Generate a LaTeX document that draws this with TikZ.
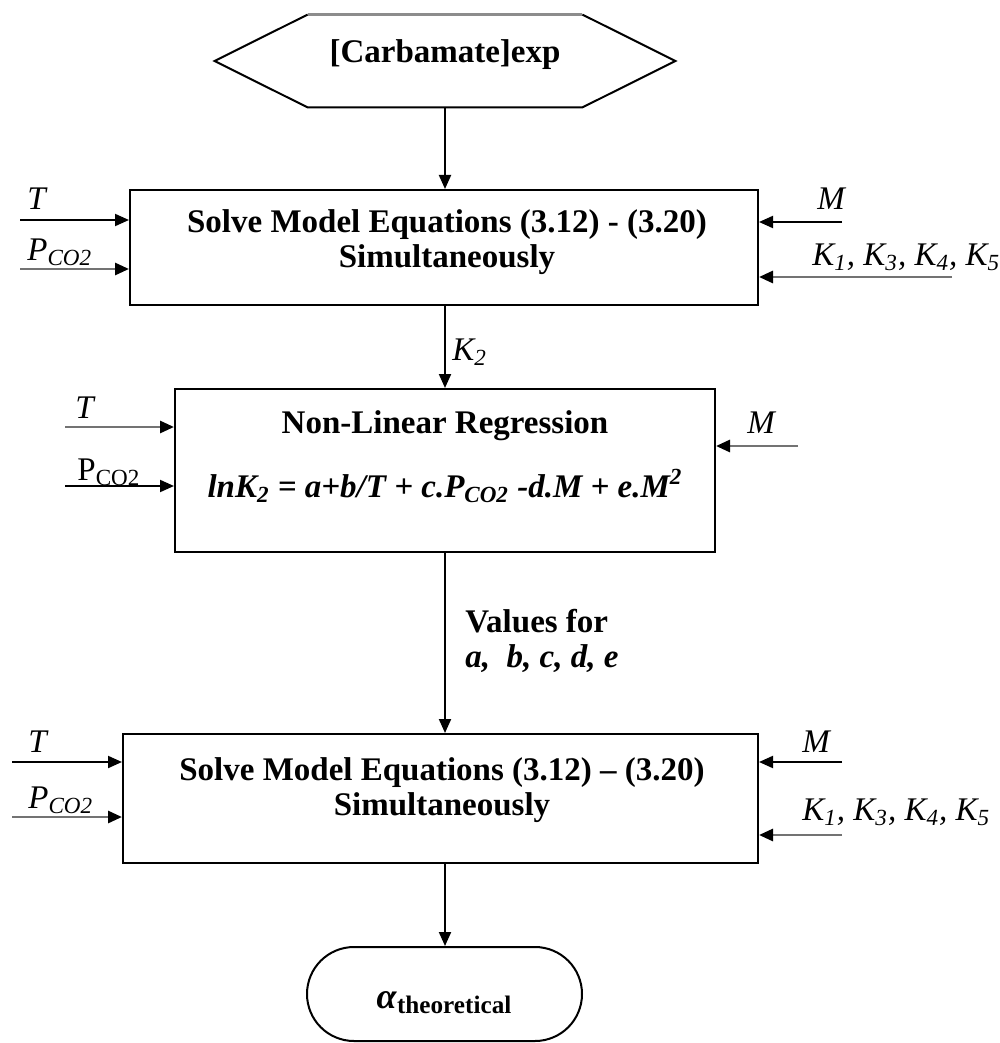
\documentclass[tikz,border=0pt]{standalone}
\usepackage{fontspec}
\setmainfont{Liberation Serif}
\usetikzlibrary{arrows.meta,calc}
\begin{document}
\begin{tikzpicture}[x=0.5pt,y=-0.5pt,
  font=\fontsize{16.5}{16.5}\selectfont,
  box/.style={draw=black,line width=1pt,inner sep=0pt},
  txt/.style={inner sep=0pt,anchor=base},
  lab/.style={inner sep=0pt,anchor=base west,font=\fontsize{16.5}{16.5}\selectfont\itshape},
  arr/.style={draw=black,line width=1pt,-{Triangle[length=7pt,width=6pt,color=black]}},
  garr/.style={arr,draw=black!55,line width=1.4pt},
]
\useasboundingbox (0,0) rectangle (1000,1043);
% hexagon
\node[inner sep=0pt,minimum width=230pt,minimum height=46pt] (hex) at (445,61) {};
\draw[line width=1pt] ($(hex.north west)+(93,0)$) -- (hex.west) -- ($(hex.south west)+(93,0)$) -- ($(hex.south east)+(-93,0)$) -- (hex.east) -- ($(hex.north east)+(-93,0)$);
\draw[line width=1.4pt,draw=black!45] ($(hex.north west)+(93,0)$) -- ($(hex.north east)+(-93,0)$);
\node[txt,font=\fontsize{16.5}{16.5}\selectfont\bfseries] (hext) at (445,63) {[Carbamate]exp};
% boxes
\node[box,minimum width=314pt,minimum height=57.5pt] (b1) at (444,247.5) {};
\node[box,minimum width=270pt,minimum height=81.5pt] (b2) at (445,470.5) {};
\node[box,minimum width=317.5pt,minimum height=64.5pt] (b3) at (440.5,798.5) {};
\node[box,rounded corners=23.5pt,minimum width=137.5pt,minimum height=47pt] (term) at (444.5,994) {};
% box texts
\node[txt,font=\fontsize{16.5}{16.5}\selectfont\bfseries] (b1a) at (447,233) {Solve Model Equations (3.12) - (3.20)};
\node[txt,font=\fontsize{16.5}{16.5}\selectfont\bfseries] (b1b) at (447,267) {Simultaneously};
\node[txt,font=\fontsize{16.5}{16.5}\selectfont\bfseries] (b2a) at (445,433) {Non-Linear Regression};
\node[txt,font=\fontsize{16.5}{16.5}\selectfont\bfseries\itshape] (b2b) at (445,497) {lnK\textsubscript{2} = a+b/T + c.P\textsubscript{CO2} -d.M + e.M\textsuperscript{2}};
\node[txt,font=\fontsize{16.5}{16.5}\selectfont\bfseries] (b3a) at (442,780) {Solve Model Equations (3.12) – (3.20)};
\node[txt,font=\fontsize{16.5}{16.5}\selectfont\bfseries] (b3b) at (442,815) {Simultaneously};
\node[txt,font=\fontsize{18}{18}\selectfont\bfseries] (termt) at (444.5,1008) {\textit{α}\textsubscript{theoretical}};
% vertical flow
\draw[arr] (hex.south) -- (hex.south |- b1.north);
\draw[arr] (hex.south |- b1.south) -- (hex.south |- b2.north);
\draw[arr] (hex.south |- b2.south) -- (hex.south |- b3.north);
\draw[arr] (hex.south |- b3.south) -- (hex.south |- term.north);
\node[lab] (k2) at (452,360) {K\textsubscript{2}};
\node[txt,anchor=base west,font=\fontsize{16.5}{16.5}\selectfont\bfseries] (vf) at (465,632) {Values for};
\node[txt,anchor=base west,font=\fontsize{16.5}{16.5}\selectfont\bfseries\itshape] (vl) at (465,667) {a,\ \ b, c, d, e};
% box1 inputs
\coordinate (i1t) at (20,220);
\coordinate (i1p) at (20,269);
\coordinate (i1m) at (842,222);
\coordinate (i1k) at (952,277);
\draw[arr] (i1t) -- (i1t -| b1.west);
\draw[garr] (i1p) -- (i1p -| b1.west);
\draw[arr] (i1m) -- (i1m -| b1.east);
\draw[garr] (i1k) -- (i1k -| b1.east);
\node[lab] (l1t) at (27,210) {T};
\node[lab] (l1p) at (27,260) {P\textsubscript{CO2}};
\node[lab] (l1m) at (817,210) {M};
\node[lab] (l1k) at (812,265) {K\textsubscript{1}, K\textsubscript{3}, K\textsubscript{4}, K\textsubscript{5}};
% box2 inputs
\coordinate (i2t) at (65,427);
\coordinate (i2p) at (65,486);
\coordinate (i2m) at (798,446);
\draw[garr] (i2t) -- (i2t -| b2.west);
\draw[arr] (i2p) -- (i2p -| b2.west);
\draw[garr] (i2m) -- (i2m -| b2.east);
\node[lab] (l2t) at (75,418) {T};
\node[lab,font=\fontsize{16.5}{16.5}\selectfont] (l2p) at (77,480) {P\textsubscript{CO2}};
\node[lab] (l2m) at (747,433) {M};
% box3 inputs
\coordinate (i3t) at (12,762);
\coordinate (i3p) at (12,817);
\coordinate (i3m) at (842,762);
\coordinate (i3k) at (842,835);
\draw[arr] (i3t) -- (i3t -| b3.west);
\draw[garr] (i3p) -- (i3p -| b3.west);
\draw[arr] (i3m) -- (i3m -| b3.east);
\draw[garr] (i3k) -- (i3k -| b3.east);
\node[lab] (l3t) at (28,752) {T};
\node[lab] (l3p) at (28,808) {P\textsubscript{CO2}};
\node[lab] (l3m) at (802,752) {M};
\node[lab] (l3k) at (802,820) {K\textsubscript{1}, K\textsubscript{3}, K\textsubscript{4}, K\textsubscript{5}};
\end{tikzpicture}
\end{document}
